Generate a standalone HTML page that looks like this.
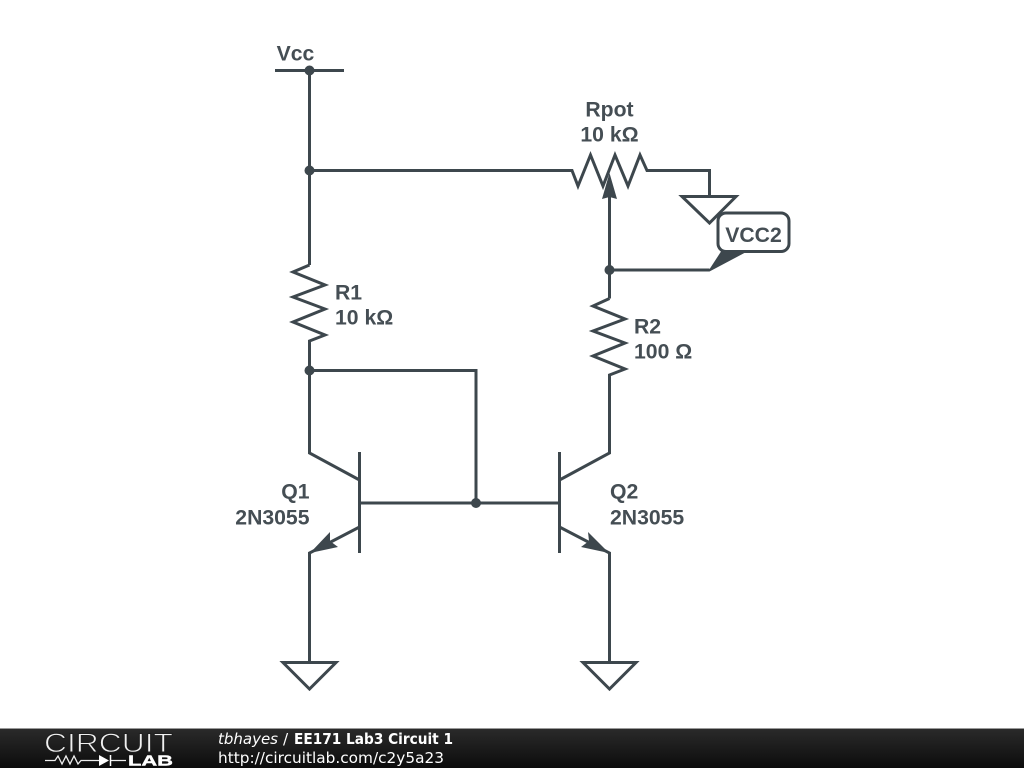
<!DOCTYPE html>
<html><head><meta charset="utf-8"><style>
html,body{margin:0;padding:0;background:#fff;width:1024px;height:768px;overflow:hidden}
svg{display:block}
.w{fill:none;stroke:#3d474d;stroke-width:3;stroke-linejoin:miter}
.d{fill:#3d474d}
.l{font-family:"Liberation Sans",sans-serif;font-weight:bold;font-size:21.2px;fill:#454e54}
.f{font-family:"DejaVu Sans",sans-serif;font-size:15.2px;fill:#fff}
</style></head><body>
<svg width="1024" height="768" viewBox="0 0 1024 768" xmlns="http://www.w3.org/2000/svg">
<defs><linearGradient id="g" x1="0" y1="0" x2="0" y2="1"><stop offset="0" stop-color="#2a2a2a"/><stop offset="1" stop-color="#0c0c0c"/></linearGradient></defs>
<rect width="1024" height="768" fill="#fff"/>
<!-- Vcc -->
<path class="w" d="M275 70.5H344M309.5 70.5V265"/>
<path class="w" d="M309.5 170.5H572L578 186L590.500 155L603 186L615 155L628 186L640 155L647 170.500H709.500V196.500"/>
<path class="w" d="M682 196.500H736L709.500 223Z"/>
<!-- wiper -->
<path class="w" d="M609.500 190V298.500"/>
<path class="d" d="M609.500 173L617 199L609.500 197L602 199Z"/>
<path class="w" d="M609.500 270H709.500"/>
<!-- VCC2 -->
<path class="d" d="M708 271.500L722 250H750L709.500 271.500Z"/>
<rect x="718" y="213" width="71" height="38.500" rx="8" fill="#fff" stroke="#3d474d" stroke-width="3"/>
<!-- R1 -->
<path class="w" d="M309.500 265L293 272L325 285L293 297L325 309L293 322L325 335L309.500 341V453L359.500 480"/>
<path class="w" d="M309.500 370.500H476V503"/>
<!-- R2 -->
<path class="w" d="M609.500 298.500L593 306L625 319L593 331L625 343L593 356L625 369L609.500 375V453L559.500 480"/>
<!-- transistors -->
<path class="w" d="M359.500 452V553M559.500 452V553M359.500 503H559.500"/>
<path class="w" d="M359.500 527L309.500 553V662.500"/>
<path class="w" d="M559.500 527L609.500 553V662.500"/>
<path class="d" d="M310 553L330 532L330 541L338 547Z"/>
<path class="d" d="M609 553L588 532L589 541L581 547Z"/>
<!-- grounds -->
<path class="w" d="M283 662.500H336L309.500 689Z"/>
<path class="w" d="M583 662.500H636L609.500 689Z"/>
<!-- dots -->
<circle class="d" cx="309.500" cy="70.500" r="5"/>
<circle class="d" cx="309.500" cy="170.500" r="5"/>
<circle class="d" cx="309.500" cy="370.500" r="5"/>
<circle class="d" cx="609.500" cy="270" r="5"/>
<circle class="d" cx="476" cy="503" r="5"/>
<!-- labels -->
<text class="l" x="295.500" y="60.500" text-anchor="middle">Vcc</text>
<text class="l" x="609.500" y="116.500" text-anchor="middle">Rpot</text>
<text class="l" x="609.500" y="141.500" text-anchor="middle">10 kΩ</text>
<text class="l" x="753.500" y="242" text-anchor="middle">VCC2</text>
<text class="l" x="335" y="299.500">R1</text>
<text class="l" x="335" y="324.500">10 kΩ</text>
<text class="l" x="634" y="333.500">R2</text>
<text class="l" x="634" y="358.500">100 Ω</text>
<text class="l" x="309.500" y="498.500" text-anchor="end">Q1</text>
<text class="l" x="309.500" y="524.500" text-anchor="end">2N3055</text>
<text class="l" x="610" y="498.500">Q2</text>
<text class="l" x="610" y="524.500">2N3055</text>
<!-- footer -->
<rect x="0" y="729" width="1024" height="39" fill="url(#g)"/>
<rect x="0" y="728" width="1024" height="1" fill="#999"/>
<text x="44" y="752" font-family="Liberation Sans,sans-serif" font-size="26.500" fill="#f0f0f0" stroke="#1f1f1f" stroke-width="0.900" textLength="129" lengthAdjust="spacingAndGlyphs">CIRCUIT</text>
<path d="M45 760.500H55L58 756L62 764L66 756L70 764L74 756L78 764L81 760.500H99M111 760.500H126" fill="none" stroke="#eee" stroke-width="1.300"/>
<path d="M99 755L109 760.500L99 766Z" fill="#fff"/>
<path d="M110.500 755V766" stroke="#fff" stroke-width="1.500"/>
<text x="128" y="765.500" font-family="Liberation Sans,sans-serif" font-size="15" font-weight="bold" fill="#fff" stroke="#fff" stroke-width="0.400" textLength="45" lengthAdjust="spacingAndGlyphs">LAB</text>
<text class="f" x="218" y="744" font-style="italic" textLength="60" lengthAdjust="spacingAndGlyphs">tbhayes</text>
<text class="f" x="283" y="744">/</text>
<text class="f" x="294" y="744" font-weight="bold" textLength="159" lengthAdjust="spacingAndGlyphs">EE171 Lab3 Circuit 1</text>
<text class="f" x="218" y="763" textLength="226" lengthAdjust="spacingAndGlyphs">http://circuitlab.com/c2y5a23</text>
</svg>
</body></html>
